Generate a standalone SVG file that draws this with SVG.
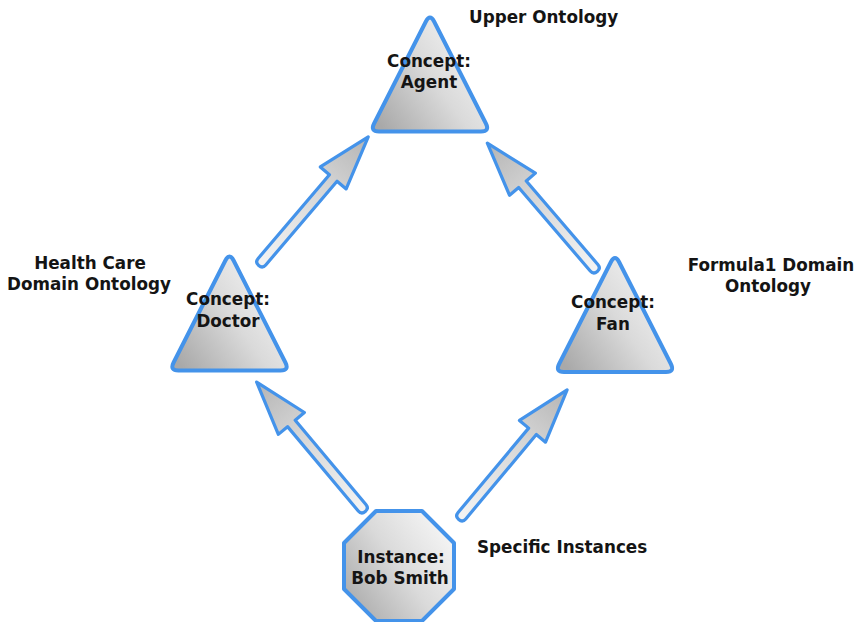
<svg xmlns="http://www.w3.org/2000/svg" xmlns:xlink="http://www.w3.org/1999/xlink" width="858" height="622" viewBox="0 0 858 622">
  <style>
    .lbl { font-family: "DejaVu Sans", Verdana, sans-serif; font-weight: bold; font-size: 16.8px; fill: #141414; }
    .mid { text-anchor: middle; }
    .shape { fill: url(#shapeFill); stroke: #4493ea; stroke-width: 4; stroke-linejoin: round; }
    .arrow { fill: url(#arrowFill); stroke: #4493ea; stroke-width: 3.2; stroke-linejoin: round; }
  </style>
  <defs>
    <linearGradient id="shapeFill" x1="0" y1="0.85" x2="1" y2="0.15">
      <stop offset="0" stop-color="#a9a9a9"/>
      <stop offset="0.5" stop-color="#dadada"/>
      <stop offset="1" stop-color="#f8f8f8"/>
    </linearGradient>
    <linearGradient id="arrowFill" x1="0" y1="0" x2="1" y2="0">
      <stop offset="0" stop-color="#f4f4f4"/>
      <stop offset="0.6" stop-color="#d6d6d6"/>
      <stop offset="1" stop-color="#b4b4b4"/>
    </linearGradient>
    <!-- rounded triangle centred on the origin -->
    <path id="tri" class="shape" d="M-4.1,-51 Q0,-59 4.1,-51 L55.9,51 Q60,59 51,59 L-51,59 Q-60,59 -55.9,51 Z"/>
    <!-- block arrow pointing along +x, tail at the origin -->
    <path id="arr" class="arrow" d="M3,-5 L113,-5 L113,-17 L167,0 L113,17 L113,5 L3,5 Q-2,5 -2,0 Q-2,-5 3,-5 Z"/>
  </defs>

  <rect width="858" height="622" fill="#ffffff"/>

  <g id="connectors">
    <use xlink:href="#arr" href="#arr" transform="translate(260,264) rotate(-49.6)"/>
    <use xlink:href="#arr" href="#arr" transform="translate(596,270) rotate(-130.6)"/>
    <use xlink:href="#arr" href="#arr" transform="translate(364,510) rotate(-130)"/>
    <use xlink:href="#arr" href="#arr" transform="translate(460,518) rotate(-50.1)"/>
  </g>

  <g id="agent">
    <use xlink:href="#tri" href="#tri" transform="translate(430,72.5)"/>
    <text class="lbl mid" x="429" y="67">Concept:</text>
    <text class="lbl mid" x="429" y="88">Agent</text>
  </g>

  <g id="doctor">
    <use xlink:href="#tri" href="#tri" transform="translate(229.5,311.5)"/>
    <text class="lbl mid" x="228" y="305">Concept:</text>
    <text class="lbl mid" x="228" y="327">Doctor</text>
  </g>

  <g id="fan">
    <use xlink:href="#tri" href="#tri" transform="translate(615,313)"/>
    <text class="lbl mid" x="613" y="308">Concept:</text>
    <text class="lbl mid" x="613" y="330">Fan</text>
  </g>

  <g id="bob-smith">
    <polygon class="shape" points="376,511 422,511 454,543 454,589 422,621 376,621 344,589 344,543"/>
    <text class="lbl mid" x="401" y="563">Instance:</text>
    <text class="lbl mid" x="400" y="584">Bob Smith</text>
  </g>

  <g id="labels">
    <text class="lbl" x="469" y="23">Upper Ontology</text>
    <text class="lbl mid" x="90" y="269">Health Care</text>
    <text class="lbl mid" x="89" y="290">Domain Ontology</text>
    <text class="lbl mid" x="771" y="271">Formula1 Domain</text>
    <text class="lbl mid" x="768" y="292">Ontology</text>
    <text class="lbl" x="477" y="553">Specific Instances</text>
  </g>
</svg>
